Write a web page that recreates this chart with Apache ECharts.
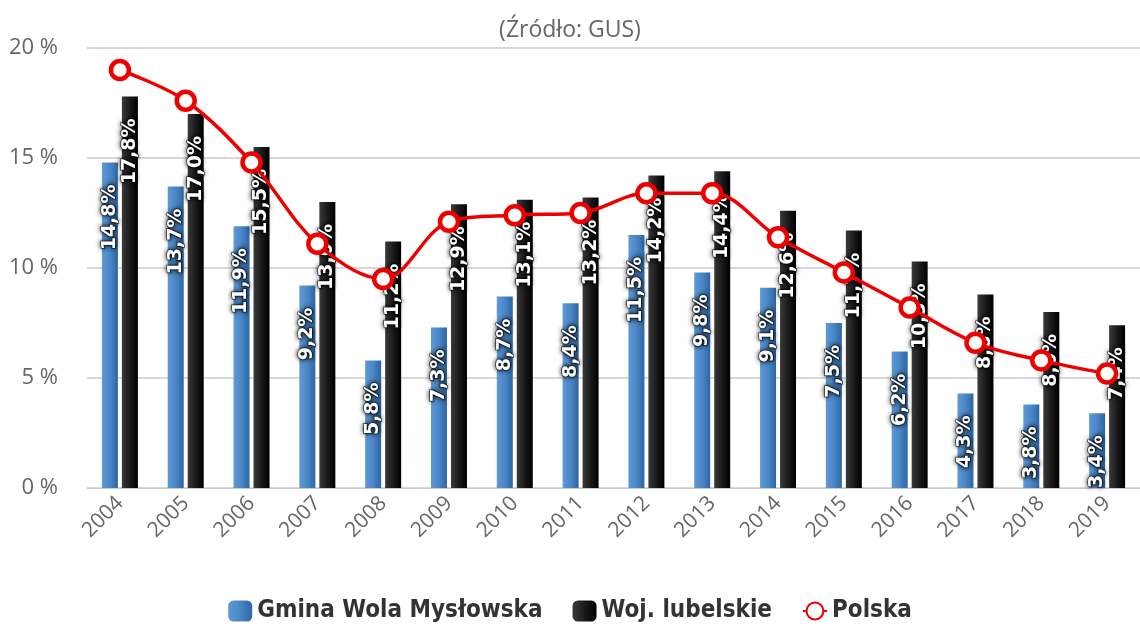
<!DOCTYPE html>
<html>
<head>
<meta charset="utf-8">
<script src="https://cdn.jsdelivr.net/npm/echarts@6/dist/echarts.min.js"></script>
<style>
	html, body { margin: 0; padding: 0; background: #fff; }
	#chart { width: 1140px; height: 630px; }
</style>
</head>
<body>
<div id="chart"></div>
<script>
	// lata
	var years = ['2004', '2005', '2006', '2007', '2008', '2009', '2010', '2011',
		'2012', '2013', '2014', '2015', '2016', '2017', '2018', '2019'];
	// stopa bezrobocia (%)
	var gmina = [14.8, 13.7, 11.9, 9.2, 5.8, 7.3, 8.7, 8.4, 11.5, 9.8, 9.1, 7.5, 6.2, 4.3, 3.8, 3.4];
	var lubelskie = [17.8, 17.0, 15.5, 13.0, 11.2, 12.9, 13.1, 13.2, 14.2, 14.4, 12.6, 11.7, 10.3, 8.8, 8.0, 7.4];
	var polska = [19.0, 17.6, 14.8, 11.1, 9.5, 12.1, 12.4, 12.5, 13.4, 13.4, 11.4, 9.8, 8.2, 6.6, 5.8, 5.2];
	var yTicks = [0, 5, 10, 15, 20];

	var chart = echarts.init(document.getElementById('chart'));

	var barLabel = {
		show: true,
		position: 'insideTop',
		distance: 22,
		rotate: 90,
		align: 'right',
		verticalAlign: 'middle',
		color: '#fff',
		fontSize: 19,
		fontWeight: 'bold',
		fontFamily: 'DejaVu Sans',
		textShadowColor: 'rgba(0,0,0,0.9)',
		textShadowBlur: 5,
		textBorderColor: 'rgba(0,0,0,0.5)',
		textBorderWidth: 2,
		formatter: function(p) {
			return String(p.value.toFixed(1)).replace('.', ',') + '%';
		}
	};

	var option = {
		animation: false,
		title: {
			text: '(Źródło: GUS)',
			left: 'center',
			top: 14,
			textStyle: { color: '#666', fontSize: 23, fontWeight: 'normal', fontFamily: 'Open Sans' }
		},
		legend: {
			bottom: 2,
			left: 'center',
			itemWidth: 24,
			itemHeight: 21,
			itemGap: 30,
			textStyle: { color: '#333', fontSize: 24, fontWeight: 'bold', fontFamily: 'DejaVu Sans Condensed' },
			data: ['Gmina Wola Mysłowska', 'Woj. lubelskie', 'Polska']
		},
		grid: {
			left: 87,
			right: -3,
			top: 48,
			bottom: 142,
			containLabel: false
		},
		xAxis: {
			type: 'category',
			data: years,
			axisLine: { lineStyle: { color: '#c0d0e0', width: 1 } },
			axisTick: { length: 19, lineStyle: { color: '#c0d0e0' } },
			axisLabel: { rotate: 45, color: '#666', fontSize: 21, fontFamily: 'Open Sans', margin: 12 }
		},
		yAxis: {
			type: 'value',
			min: yTicks[0],
			max: yTicks[yTicks.length - 1],
			interval: 5,
			axisLabel: {
				color: '#666', fontSize: 22, fontFamily: 'Open Sans', margin: 29,
				formatter: '{value} %'
			},
			splitLine: { lineStyle: { color: '#d8d8d8', width: 2 } }
		},
		series: [{
			name: 'Gmina Wola Mysłowska',
			type: 'bar',
			data: gmina,
			barWidth: 16,
			barGap: '25%',
			itemStyle: {
				color: new echarts.graphic.LinearGradient(0, 0, 1, 0, [
					{ offset: 0, color: '#5f9ad6' },
					{ offset: 0.5, color: '#4a86c6' },
					{ offset: 1, color: '#2d66a3' }
				])
			},
			label: barLabel
		}, {
			name: 'Woj. lubelskie',
			type: 'bar',
			data: lubelskie,
			barWidth: 16,
			itemStyle: {
				color: new echarts.graphic.LinearGradient(0, 0, 1, 0, [
					{ offset: 0, color: '#3a3a3a' },
					{ offset: 0.5, color: '#1a1a1a' },
					{ offset: 1, color: '#000' }
				])
			},
			label: barLabel
		}, {
			name: 'Polska',
			type: 'line',
			data: polska,
			smooth: 0.35,
			symbol: 'circle',
			symbolSize: 18,
			z: 5,
			lineStyle: { color: '#ee0000', width: 3.5 },
			itemStyle: { color: '#fff', borderColor: '#ee0000', borderWidth: 4.5 }
		}]
	};

	chart.setOption(option);
</script>
</body>
</html>
